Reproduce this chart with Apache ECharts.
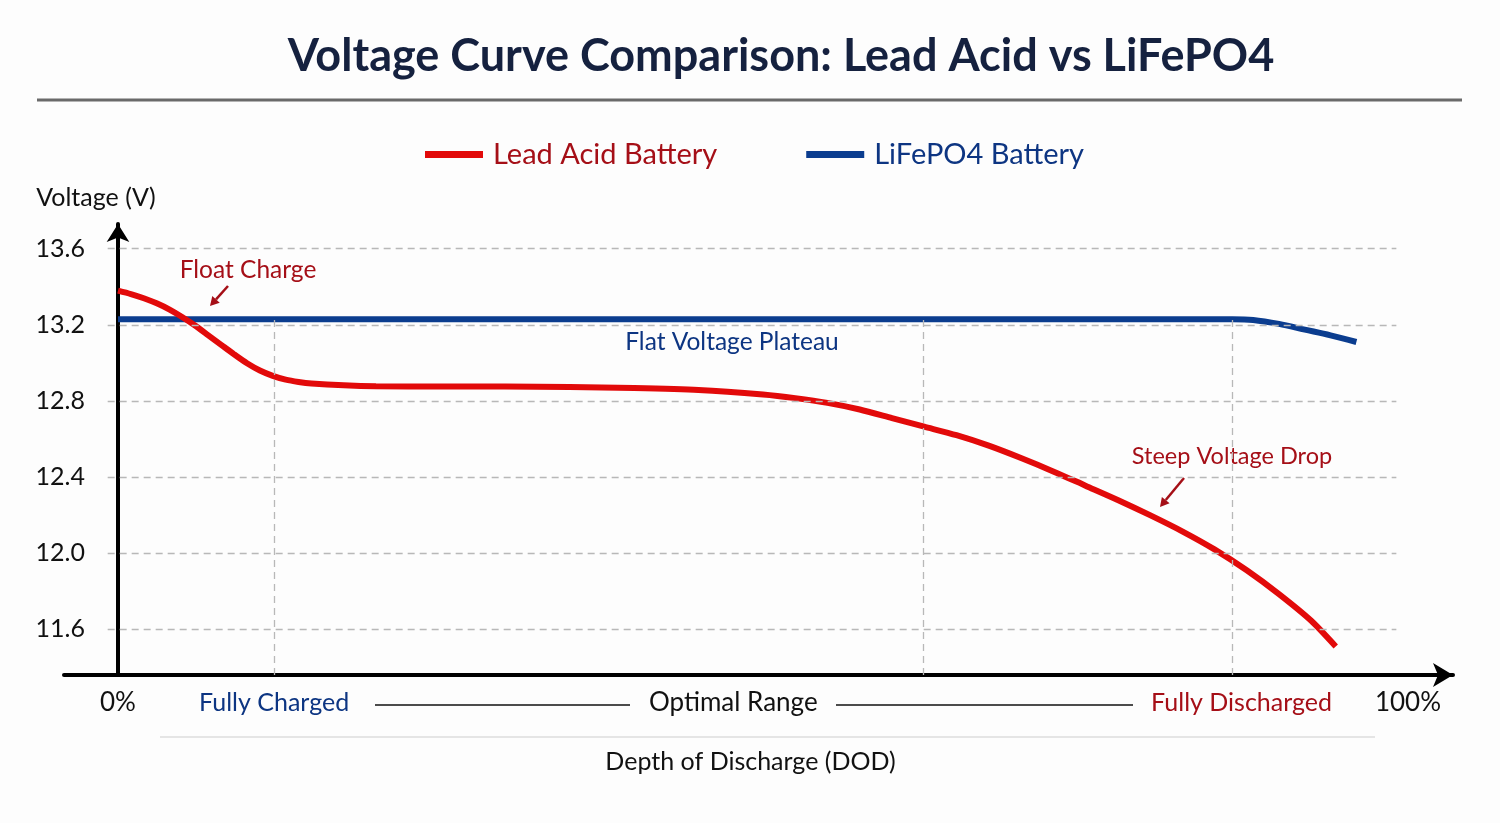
<!DOCTYPE html>
<html>
<head>
<meta charset="utf-8">
<script src="https://cdn.jsdelivr.net/npm/echarts@6/dist/echarts.min.js"></script>
<style>
html,body{margin:0;padding:0;background:#fdfdfd;}
#c{width:1500px;height:823px;}
</style>
</head>
<body>
<div id="c"></div>
<script>
// ---- data ----
const leadDod  = [0, 1, 2, 3, 4, 5, 6, 7, 8, 9, 10, 11, 12, 13, 14, 15, 17.5, 20, 25, 30, 35, 40, 45, 50, 52.5, 55, 57.5, 60, 62.5, 65, 67.5, 70, 72.5, 75, 77.5, 80, 82.5, 85, 87.5, 90, 92.5, 94.4];
const leadVolt = [13.38, 13.362, 13.34, 13.313, 13.28, 13.24, 13.195, 13.145, 13.095, 13.045, 12.998, 12.96, 12.932, 12.912, 12.9, 12.892, 12.882, 12.877, 12.876, 12.876, 12.873, 12.868, 12.858, 12.834, 12.815, 12.79, 12.755, 12.71, 12.665, 12.62, 12.565, 12.50, 12.43, 12.355, 12.28, 12.20, 12.115, 12.02, 11.91, 11.785, 11.645, 11.51];
const lfpDod   = [0, 20, 40, 60, 80, 86.4, 88, 90, 92, 94, 96.0];
const lfpVolt  = [13.23, 13.23, 13.23, 13.23, 13.23, 13.23, 13.226, 13.205, 13.175, 13.145, 13.11];
const yTicks   = [11.6, 12.0, 12.4, 12.8, 13.2, 13.6];
const zoneLines = [12.1, 62.4, 86.4];
const xLabelValues = [0, 12.1, 47.7, 87.1, 100];
const xLabelTexts  = ['0%', 'Fully Charged', 'Optimal Range', 'Fully Discharged', '100%'];
const xLabelStyles = ['k', 'b', 'k', 'r', 'k'];

const FONT = 'Lato';
const RED = '#e20a0a', DARKRED = '#a50f17', BLUE = '#0b3d8f', NAVY = '#0d3582';

const chart = echarts.init(document.getElementById('c'));

const gridData = yTicks.map(v => [{coord: [-0.8, v]}, {coord: [99.1, v]}]);
const zoneData = zoneLines.map(x => [{coord: [x, 11.36]}, {coord: [x, 13.23]}]);

function arrow(x1, y1, x2, y2, color) {
  const ang = Math.atan2(y2 - y1, x2 - x1);
  const L = 9, W = 5;
  const bx = x2 - L * Math.cos(ang), by = y2 - L * Math.sin(ang);
  const px = -Math.sin(ang) * W, py = Math.cos(ang) * W;
  return [
    {type: 'line', shape: {x1, y1, x2: bx, y2: by}, style: {stroke: color, lineWidth: 2.5}},
    {type: 'polygon', shape: {points: [[x2, y2], [bx + px, by + py], [bx - px, by - py]]}, style: {fill: color}}
  ];
}

chart.setOption({
  backgroundColor: '#fdfdfd',
  animation: false,
  textStyle: {fontFamily: FONT},
  legend: {
    top: 135, left: 420,
    itemWidth: 58, itemHeight: 7, itemGap: 89,
    icon: 'rect',
    textStyle: {fontSize: 29, fontFamily: FONT, padding: [0, 0, 0, 5]},
    data: [
      {name: 'Lead Acid Battery', textStyle: {color: DARKRED}},
      {name: 'LiFePO4 Battery', textStyle: {color: NAVY}}
    ]
  },
  grid: {left: 64, right: 47, top: 224, bottom: 148, containLabel: false, outerBoundsMode: 'none'},
  xAxis: {
    type: 'value', min: -4.186, max: 103.49,
    axisLine: {show: true, onZero: false, lineStyle: {color: '#000', width: 4},
      symbol: ['none', 'arrow'], symbolSize: [18, 20]},
    axisTick: {show: false},
    splitLine: {show: false},
    axisLabel: {
      customValues: xLabelValues,
      margin: 15,
      formatter: function (v) {
        let i = xLabelValues.indexOf(v);
        if (i < 0) { i = xLabelValues.findIndex(x => Math.abs(x - v) < 0.01); }
        if (i < 0) return '';
        return '{' + xLabelStyles[i] + '|' + xLabelTexts[i] + '}';
      },
      rich: {
        k: {fontSize: 26, color: '#111', fontFamily: FONT},
        b: {fontSize: 25, color: NAVY, fontFamily: FONT},
        r: {fontSize: 25, color: DARKRED, fontFamily: FONT}
      }
    },
    name: 'Depth of Discharge (DOD)',
    nameLocation: 'middle', nameGap: 74,
    nameTextStyle: {fontSize: 25, color: '#111', fontFamily: FONT, padding: [0, 16, 0, 0]}
  },
  yAxis: {
    type: 'value', min: 11.36, max: 13.73,
    axisLine: {show: true, onZero: true, lineStyle: {color: '#000', width: 4},
      symbol: ['none', 'arrow'], symbolSize: [17, 18]},
    axisTick: {show: false},
    splitLine: {show: false},
    axisLabel: {
      customValues: yTicks,
      margin: -21, fontSize: 25, color: '#111', fontFamily: FONT,
      formatter: v => v.toFixed(1)
    },
    name: 'Voltage (V)', nameLocation: 'end', nameGap: 14,
    nameTextStyle: {fontSize: 25, color: '#111', fontFamily: FONT, align: 'center', padding: [0, 44, 0, 0]}
  },
  series: [
    {
      name: 'grid', type: 'line', data: [], z: 1, silent: true,
      markLine: {
        silent: true, symbol: ['none', 'none'], label: {show: false},
        lineStyle: {color: '#b8b8b8', type: [7, 5], width: 1.3},
        data: gridData.concat(zoneData)
      }
    },
    {
      name: 'LiFePO4 Battery', type: 'line', z: 3,
      data: lfpDod.map((x, i) => [x, lfpVolt[i]]),
      smooth: 0.35, showSymbol: false, symbol: 'none',
      lineStyle: {color: BLUE, width: 6},
      itemStyle: {color: BLUE}
    },
    {
      name: 'Lead Acid Battery', type: 'line', z: 4,
      data: leadDod.map((x, i) => [x, leadVolt[i]]),
      smooth: 0.25, showSymbol: false, symbol: 'none',
      lineStyle: {color: RED, width: 6},
      itemStyle: {color: RED}
    }
  ],
  graphic: [
    {type: 'text', x: 781, y: 56, style: {text: 'Voltage Curve Comparison: Lead Acid vs LiFePO4', font: 'bold 45px ' + FONT, fill: '#15213f', textAlign: 'center', textVerticalAlign: 'middle'}},
    {type: 'line', shape: {x1: 37, y1: 100, x2: 1462, y2: 100}, style: {stroke: '#6a6a6a', lineWidth: 3}},
    {type: 'text', x: 248, y: 270, style: {text: 'Float Charge', font: '24.5px ' + FONT, fill: DARKRED, textAlign: 'center', textVerticalAlign: 'middle'}},
    {type: 'text', x: 732, y: 342, style: {text: 'Flat Voltage Plateau', font: '24.5px ' + FONT, fill: NAVY, textAlign: 'center', textVerticalAlign: 'middle'}},
    {type: 'text', x: 1232, y: 456, style: {text: 'Steep Voltage Drop', font: '23.5px ' + FONT, fill: DARKRED, textAlign: 'center', textVerticalAlign: 'middle'}},
    ...arrow(228, 286, 210, 306, DARKRED),
    ...arrow(1184, 478, 1160, 507, DARKRED),
    {type: 'line', shape: {x1: 375, y1: 705, x2: 630, y2: 705}, style: {stroke: '#111', lineWidth: 1.5}},
    {type: 'line', shape: {x1: 836, y1: 705, x2: 1133, y2: 705}, style: {stroke: '#111', lineWidth: 1.5}},
    {type: 'line', shape: {x1: 160, y1: 737, x2: 1375, y2: 737}, style: {stroke: '#dcdcdc', lineWidth: 1.5}}
  ]
});
</script>
</body>
</html>
